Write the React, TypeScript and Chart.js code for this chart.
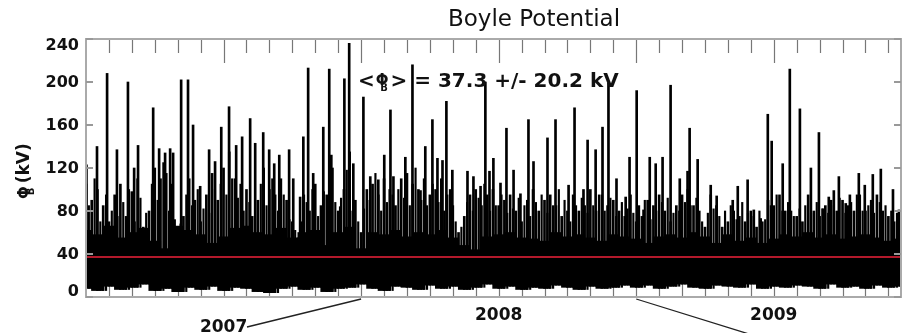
import { useEffect, useRef } from "react";
import { Chart, registerables } from "chart.js";

Chart.register(...registerables);

// Time axis runs in months since 1 Jan 2007.
const MONTH_MAX = 35.55;
const MEAN_PHI = 37.3;
const SIGMA_PHI = 20.2;
const yTicks = [0, 40, 80, 120, 160, 200, 240];
const yearLabels = ["2007", "2008", "2009"];
const yearLabelMonths = [6, 18, 30];
const yearStartMonths = [12, 24];

// Bottom of the dense trace, every half month (kV)
const lowEdge = [
  8, 6, 10, 7, 9, 12, 6, 8, 5, 9, 7, 10, 6, 9, 8, 5, 4, 8, 10, 7, 9, 5, 8, 9,
  12, 8, 6, 10, 9, 7, 11, 8, 10, 7, 9, 12, 8, 10, 7, 9, 8, 11, 9, 7, 10, 8, 9, 11,
  9, 11, 8, 10, 12, 9, 8, 11, 10, 9, 12, 8, 10, 9, 11, 10, 8, 12, 9, 10, 8, 11, 9, 10,
];

// Top of the solid part of the trace, every half month (kV)
const solidTop = [
  62, 58, 66, 55, 60, 64, 52, 45, 66, 62, 58, 50, 56, 64, 66, 60, 58, 64, 55, 60, 62, 48, 60, 65,
  45, 60, 58, 62, 56, 60, 58, 62, 55, 48, 44, 56, 58, 60, 55, 54, 52, 60, 56, 58, 55, 52, 58, 56,
  54, 50, 56, 58, 55, 60, 56, 50, 58, 52, 55, 50, 54, 58, 56, 60, 55, 58, 54, 56, 58, 55, 52, 54,
];

// Typical excursions above the solid band, every quarter month (kV)
const streakTop = [
  105, 90, 100, 85, 70, 95, 105, 75, 98, 110,
  65, 80, 120, 110, 115, 105, 60, 75, 110, 90,
  70, 95, 115, 90, 120, 135, 110, 105, 100, 75,
  90, 120, 100, 95, 110, 90, 70, 55, 95, 80,
  105, 85, 95, 120, 80, 100, 135, 90, 60, 100,
  105, 95, 110, 100, 85, 110, 115, 105, 100, 110,
  95, 100, 110, 95, 85, 60, 75, 95, 100, 85,
  95, 100, 85, 90, 95, 80, 70, 90, 100, 80,
  90, 95, 85, 75, 80, 95, 80, 85, 100, 80,
  95, 85, 90, 80, 75, 95, 70, 75, 90, 85,
  95, 80, 70, 85, 95, 100, 85, 80, 65, 95,
  85, 65, 70, 80, 75, 70, 80, 65, 70, 90,
  85, 95, 80, 80, 75, 70, 95, 80, 75, 85,
  90, 80, 90, 85, 80, 95, 80, 90, 95, 80,
  75, 70, 75,
];

// Same, sampled half-way between the quarter-month points (kV)
const streakTopMid = [
  85, 110, 70, 95, 80, 75, 88, 100, 70, 92,
  78, 105, 90, 125, 80, 72, 68, 95, 85, 100,
  82, 78, 100, 105, 95, 110, 92, 80, 88, 90,
  105, 85, 110, 80, 95, 72, 62, 70, 88, 100,
  75, 98, 110, 88, 92, 118, 80, 70, 82, 90,
  115, 80, 88, 95, 100, 92, 85, 120, 90, 85,
  105, 88, 80, 100, 70, 65, 88, 80, 92, 105,
  80, 85, 95, 78, 82, 92, 85, 75, 88, 95,
  78, 85, 100, 90, 70, 85, 92, 78, 85, 95,
  80, 92, 75, 88, 82, 78, 85, 90, 72, 80,
  88, 92, 78, 80, 88, 85, 92, 70, 78, 82,
  75, 80, 85, 72, 88, 78, 75, 80, 72, 85,
  95, 80, 88, 75, 82, 85, 78, 88, 82, 78,
  85, 92, 78, 88, 95, 80, 85, 78, 88, 85,
  80, 78, 72,
];

// Isolated storm-time spikes: month and peak potential (kV)
const spikeMonth = [
  0.02, 0.48, 0.92, 1.35, 1.83, 2.1, 2.27, 2.93, 3.19, 3.45, 3.67, 3.8, 4.15, 4.45, 4.67, 4.98,
  5.37, 5.63, 5.9, 6.24, 6.55, 6.81, 7.16, 7.38, 7.73, 7.99, 8.21, 8.43, 8.86, 9.04, 9.34, 9.48,
  9.69, 9.91, 10.35, 10.61, 10.7, 11.09, 11.27, 11.48, 11.66, 12.1, 12.4, 12.75, 13.01, 13.28,
  13.41, 13.93, 14.24, 14.59, 14.8, 15.11, 15.33, 15.55, 15.72, 15.98, 16.64, 16.9, 17.21, 17.42,
  17.6, 17.77, 18.08, 18.34, 18.65, 18.95, 19.3, 19.52, 20.13, 20.48, 21.05, 21.31, 21.7, 21.88,
  22.23, 22.53, 22.79, 23.14, 23.54, 23.71, 24.02, 24.32, 24.59, 24.85, 25.15, 25.5, 25.9, 26.24,
  26.33, 26.68, 27.25, 27.51, 28.21, 28.43, 28.86, 29.13, 29.43, 29.74, 29.91, 30.39, 30.7, 31.14,
  31.62, 31.97, 32.14, 32.4, 32.62, 32.84, 33.14, 33.32, 33.71, 33.97, 34.32, 34.67, 35.2, 35.46,
];
const spikePeak = [
  123, 140, 208, 137, 200, 120, 141, 176, 138, 134, 138, 134, 202, 202, 160, 103,
  137, 126, 158, 177, 141, 149, 166, 143, 153, 137, 124, 132, 137, 110, 93, 149,
  213, 115, 158, 212, 132, 84, 203, 236, 124, 186, 112, 109, 132, 174,
  112, 130, 216, 99, 140, 165, 129, 127, 182, 118, 117, 112, 103, 200,
  117, 129, 106, 157, 118, 96, 165, 126, 148, 165, 104, 176, 100, 146,
  137, 158, 199, 110, 93, 130, 192, 81, 130, 124, 130, 197, 110, 117,
  157, 128, 104, 94, 90, 103, 109, 81, 73, 170, 145, 124, 212, 175,
  120, 153, 82, 93, 99, 112, 87, 95, 115, 104, 114, 119, 100, 81,
];

const FONT = "'DejaVu Sans', 'Liberation Sans', sans-serif";
const INK = "#111";

const framePlugin = {
  id: "idlFrame",
  beforeDatasetsDraw(chart: any) {
    const { ctx, chartArea: a, scales } = chart;
    const xs = scales.x;
    ctx.save();
    ctx.strokeStyle = "#777";
    ctx.lineWidth = 1.2;
    // monthly ticks along top and bottom, longer every half year
    for (let m = 1; m < MONTH_MAX; m++) {
      const px = Math.round(xs.getPixelForValue(m)) + 0.5;
      const len = m % 6 === 0 ? 24 : 14;
      ctx.beginPath();
      ctx.moveTo(px, a.top);
      ctx.lineTo(px, a.top + len);
      ctx.moveTo(px, a.bottom);
      ctx.lineTo(px, a.bottom - len);
      ctx.stroke();
    }
    ctx.restore();
  },
  afterDatasetsDraw(chart: any) {
    const { ctx, chartArea: a, scales } = chart;
    const ys = scales.y;
    ctx.save();
    ctx.strokeStyle = "#aaa";
    ctx.lineWidth = 2;
    ctx.strokeRect(a.left, a.top, a.right - a.left, a.bottom - a.top);
    ctx.strokeStyle = "#999";
    ctx.lineWidth = 2;
    ctx.fillStyle = INK;
    ctx.font = `bold 16px ${FONT}`;
    ctx.textAlign = "right";
    ctx.textBaseline = "middle";
    for (const v of yTicks) {
      const py = ys.getPixelForValue(v);
      ctx.beginPath();
      ctx.moveTo(a.left, py);
      ctx.lineTo(a.left + 7, py);
      ctx.moveTo(a.right, py);
      ctx.lineTo(a.right - 7, py);
      ctx.stroke();
      // labels sit inside the vertical extent of the frame
      const ly = Math.min(a.bottom - 5, Math.max(a.top + 7, py + 1));
      ctx.fillText(String(v), a.left - 7, ly);
    }
    ctx.restore();
  },
  afterDraw(chart: any) {
    const { ctx, chartArea: a, scales } = chart;
    const xs = scales.x;
    ctx.save();
    ctx.fillStyle = INK;

    // title
    ctx.font = `23px ${FONT}`;
    ctx.textAlign = "center";
    ctx.textBaseline = "alphabetic";
    ctx.fillText("Boyle Potential", 534, 26);

    // mean value annotation
    ctx.font = `bold 20px ${FONT}`;
    ctx.textAlign = "left";
    let x = 358;
    const base = 87;
    ctx.fillText("<", x, base);
    x += ctx.measureText("<").width + 1;
    ctx.font = `bold 15px ${FONT}`;
    ctx.fillText("Φ", x, base - 2);
    const phiW = ctx.measureText("Φ").width;
    ctx.font = `bold 10px ${FONT}`;
    ctx.fillText("B", x + phiW * 0.35, base + 4);
    x += phiW + 2;
    ctx.font = `bold 20px ${FONT}`;
    ctx.fillText(`> = ${MEAN_PHI.toFixed(1)} +/- ${SIGMA_PHI.toFixed(1)} kV`, x, base);

    // y axis title, rotated
    ctx.translate(29, 167);
    ctx.rotate(-Math.PI / 2);
    ctx.textAlign = "left";
    ctx.font = `bold 15px ${FONT}`;
    let tx = -32;
    ctx.fillText("Φ", tx, 0);
    const pw = ctx.measureText("Φ").width;
    ctx.font = `bold 10px ${FONT}`;
    ctx.fillText("B", tx + pw * 0.3, 5);
    tx += pw + 3;
    ctx.font = `bold 17px ${FONT}`;
    ctx.fillText("(kV)", tx, 0);
    ctx.setTransform(1, 0, 0, 1, 0, 0);

    // year labels and pointers to the year boundaries
    ctx.font = `bold 17px ${FONT}`;
    ctx.textAlign = "center";
    ctx.fillStyle = INK;
    ctx.fillText(yearLabels[0], xs.getPixelForValue(yearLabelMonths[0]), 332);
    ctx.fillText(yearLabels[1], xs.getPixelForValue(yearLabelMonths[1]), 320);
    ctx.fillText(yearLabels[2], xs.getPixelForValue(yearLabelMonths[2]), 320);

    ctx.strokeStyle = "#222";
    ctx.lineWidth = 1.3;
    ctx.beginPath();
    ctx.moveTo(247, 327);
    ctx.lineTo(xs.getPixelForValue(yearStartMonths[0]), a.bottom + 2);
    ctx.moveTo(xs.getPixelForValue(yearStartMonths[1]), a.bottom + 2);
    ctx.lineTo(749, 334);
    ctx.stroke();
    ctx.restore();
  },
};

export default function App() {
  const ref = useRef<HTMLCanvasElement>(null);

  useEffect(() => {
    const canvas = ref.current;
    if (!canvas) return;

    const lowAt = (i: number) => lowEdge[Math.min(lowEdge.length - 1, Math.floor(i / 2))];
    const solidData = solidTop.map((hi, j) => ({ x: j * 0.5, y: [lowEdge[j], hi] }));
    const streakData = streakTop.map((hi, i) => ({ x: i * 0.25, y: [lowAt(i), hi] }));
    const streakMidData = streakTopMid.map((hi, i) => ({ x: i * 0.25 + 0.125, y: [lowAt(i), hi] }));
    const spikeData = spikeMonth.map((m, k) => ({ x: m, y: [15, spikePeak[k]] }));

    const barSet = (data: any[], thickness: number, order: number) =>
      ({
        data,
        backgroundColor: "#000",
        barThickness: thickness,
        grouped: false,
        order,
        clip: 0,
      }) as any;

    const chart = new Chart(canvas, {
      type: "bar",
      data: {
        datasets: [
          {
            type: "line",
            data: [
              { x: 0, y: MEAN_PHI },
              { x: MONTH_MAX, y: MEAN_PHI },
            ],
            borderColor: "#b3192b",
            borderWidth: 2,
            pointRadius: 0,
            order: 0,
            clip: 0,
          } as any,
          barSet(spikeData, 2, 1),
          barSet(streakData, 2, 2),
          barSet(streakMidData, 1.5, 3),
          barSet(solidData, 12, 4),
        ],
      },
      options: {
        responsive: false,
        maintainAspectRatio: false,
        devicePixelRatio: 1,
        animation: false,
        layout: { padding: { top: 39, bottom: 36, left: 0, right: 3 } },
        plugins: {
          legend: { display: false },
          tooltip: { enabled: false },
          title: { display: false },
        },
        scales: {
          x: {
            type: "linear",
            min: 0,
            max: MONTH_MAX,
            offset: false,
            display: false,
          },
          y: {
            type: "linear",
            min: 0,
            max: 240,
            grid: { display: false, drawTicks: false },
            border: { display: false },
            afterFit: (s: any) => {
              s.width = 86;
            },
            ticks: { display: false },
          },
        },
      },
      plugins: [framePlugin],
    });

    return () => chart.destroy();
  }, []);

  return (
    <div style={{ position: "fixed", left: 0, top: 0, width: 904, height: 333, background: "#fff" }}>
      <canvas ref={ref} width={904} height={333} style={{ display: "block", width: 904, height: 333 }} />
    </div>
  );
}
